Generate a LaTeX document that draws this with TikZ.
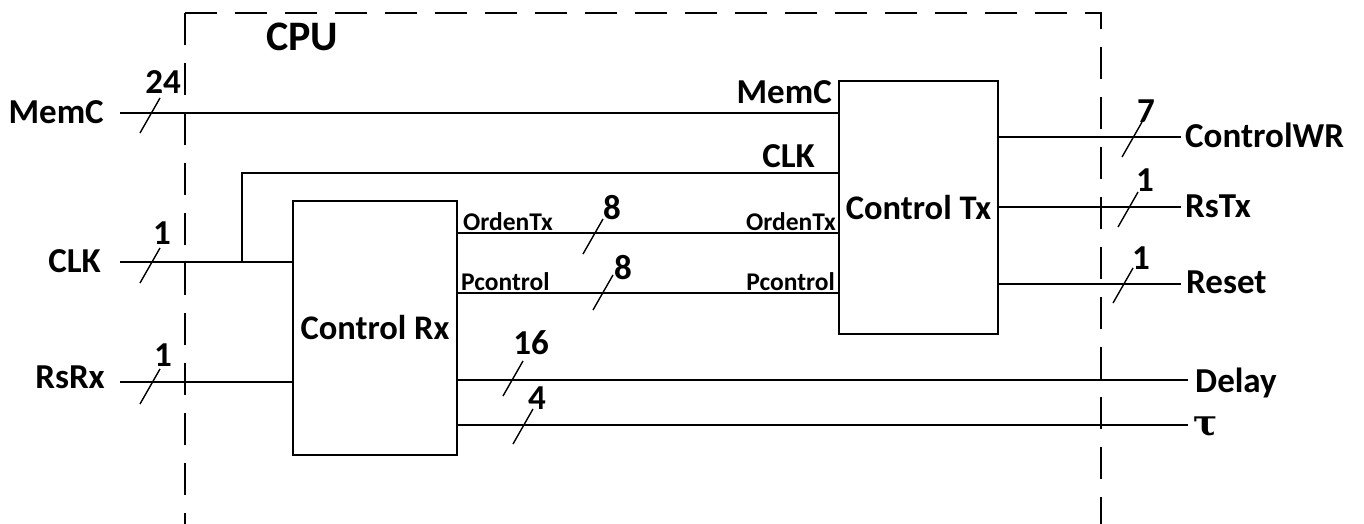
\documentclass[tikz,border=0pt]{standalone}
\usepackage{fontspec}
\setmainfont{Carlito}
\newfontfamily\taufont{DejaVu Serif}
\tikzset{
  wire/.style={line width=1.6pt},
  frame/.style={line width=1.6pt, dash pattern=on 32pt off 18pt},
  blk/.style={draw, line width=1.6pt, inner sep=0pt, font=\fontsize{34.5}{40}\selectfont\bfseries},
  lbl/.style={inner sep=0pt, font=\fontsize{35}{40}\selectfont\bfseries},
  sml/.style={inner sep=0pt, font=\fontsize{25.5}{30}\selectfont\bfseries},
  ttl/.style={inner sep=0pt, font=\fontsize{42}{48}\selectfont\bfseries},
  greek/.style={inner sep=0pt, font=\taufont\fontsize{36}{40}\selectfont\bfseries},
  busmark/.pic={\draw[line width=1.4pt] (-10,18) -- (10,-17);}
}
\begin{document}
\begin{tikzpicture}[x=1pt,y=-1pt]
\useasboundingbox (0,0) rectangle (1364,523);

% CPU boundary
\draw[frame] (185,13) -- (185,540);
\draw[frame] (185,13) -- (1101,13) -- (1101,540);
\node[ttl, anchor=base] (cpu) at (302,50) {CPU};

% blocks
\node[blk, minimum width=164pt, minimum height=254pt] (rx) at (375,328) {Control Rx};
\node[blk, minimum width=159pt, minimum height=253pt] (tx) at (918.5,207.5) {Control Tx};

% external inputs
\coordinate (memcIn) at (120,113);
\coordinate (clkIn) at (120,262);
\coordinate (rsrxIn) at (120,382);
\coordinate (clkJ) at (242,262);
\coordinate (clkUp) at (242,173);
\node[lbl, anchor=base east] (lMemC) at (104,123) {MemC};
\node[lbl, anchor=base east] (lClk) at (101,272) {CLK};
\node[lbl, anchor=base east] (lRsRx) at (105,388) {RsRx};

\draw[wire] (memcIn) -- (memcIn -| tx.west);
\draw[wire] (clkIn) -- (clkIn -| rx.west);
\draw[wire] (clkJ) -- (clkUp) -- (clkUp -| tx.west);
\draw[wire] (rsrxIn) -- (rsrxIn -| rx.west);

\pic at (150,115) {busmark};
\node[lbl] (n24) at (163,82) {24};
\pic at (150,265) {busmark};
\node[lbl] (n1a) at (162,233) {1};
\pic at (150,386) {busmark};
\node[lbl] (n1b) at (163,355) {1};

% Tx input names
\node[lbl, anchor=base east] (tMemC) at (832,103) {MemC};
\node[lbl, anchor=base east] (tClk) at (815,167) {CLK};

% Rx -> Tx buses
\coordinate (ordL) at (457,233);
\coordinate (pcL) at (457,293);
\draw[wire] (ordL -| rx.east) -- (ordL -| tx.west);
\draw[wire] (pcL -| rx.east) -- (pcL -| tx.west);
\node[sml, anchor=base west] (oL) at (463,230) {OrdenTx};
\node[sml, anchor=base east] (oR) at (836,230) {OrdenTx};
\node[sml, anchor=base west] (pL) at (461,290) {Pcontrol};
\node[sml, anchor=base east] (pR) at (835,290) {Pcontrol};
\pic at (593,236) {busmark};
\node[lbl] (n8a) at (612,208) {8};
\pic at (603,292) {busmark};
\node[lbl] (n8b) at (623,268) {8};

% Tx outputs
\coordinate (cwrOut) at (1181,137);
\coordinate (rstxOut) at (1181,207);
\coordinate (resetOut) at (1181,284);
\draw[wire] (cwrOut -| tx.east) -- (cwrOut);
\draw[wire] (rstxOut -| tx.east) -- (rstxOut);
\draw[wire] (resetOut -| tx.east) -- (resetOut);
\node[lbl, anchor=base west] (lCwr) at (1185,147) {ControlWR};
\node[lbl, anchor=base west] (lRstx) at (1185,217) {RsTx};
\node[lbl, anchor=base west] (lReset) at (1186,293) {Reset};
\pic at (1132,139) {busmark};
\node[lbl] (n7) at (1146,111) {7};
\pic at (1128,209) {busmark};
\node[lbl] (n1c) at (1145,180) {1};
\pic at (1123,285) {busmark};
\node[lbl] (n1d) at (1141,258) {1};

% Rx outputs
\coordinate (delayOut) at (1188,380);
\coordinate (tauOut) at (1188,425);
\draw[wire] (delayOut -| rx.east) -- (delayOut);
\draw[wire] (tauOut -| rx.east) -- (tauOut);
\node[lbl, anchor=base west] (lDelay) at (1195,392) {Delay};
\node[greek, anchor=base west] (lTau) at (1193,435) {τ};
\pic at (513,378) {busmark};
\node[lbl] (n16) at (531,343) {16};
\pic at (523,426) {busmark};
\node[lbl] (n4) at (537,398) {4};
\end{tikzpicture}
\end{document}
